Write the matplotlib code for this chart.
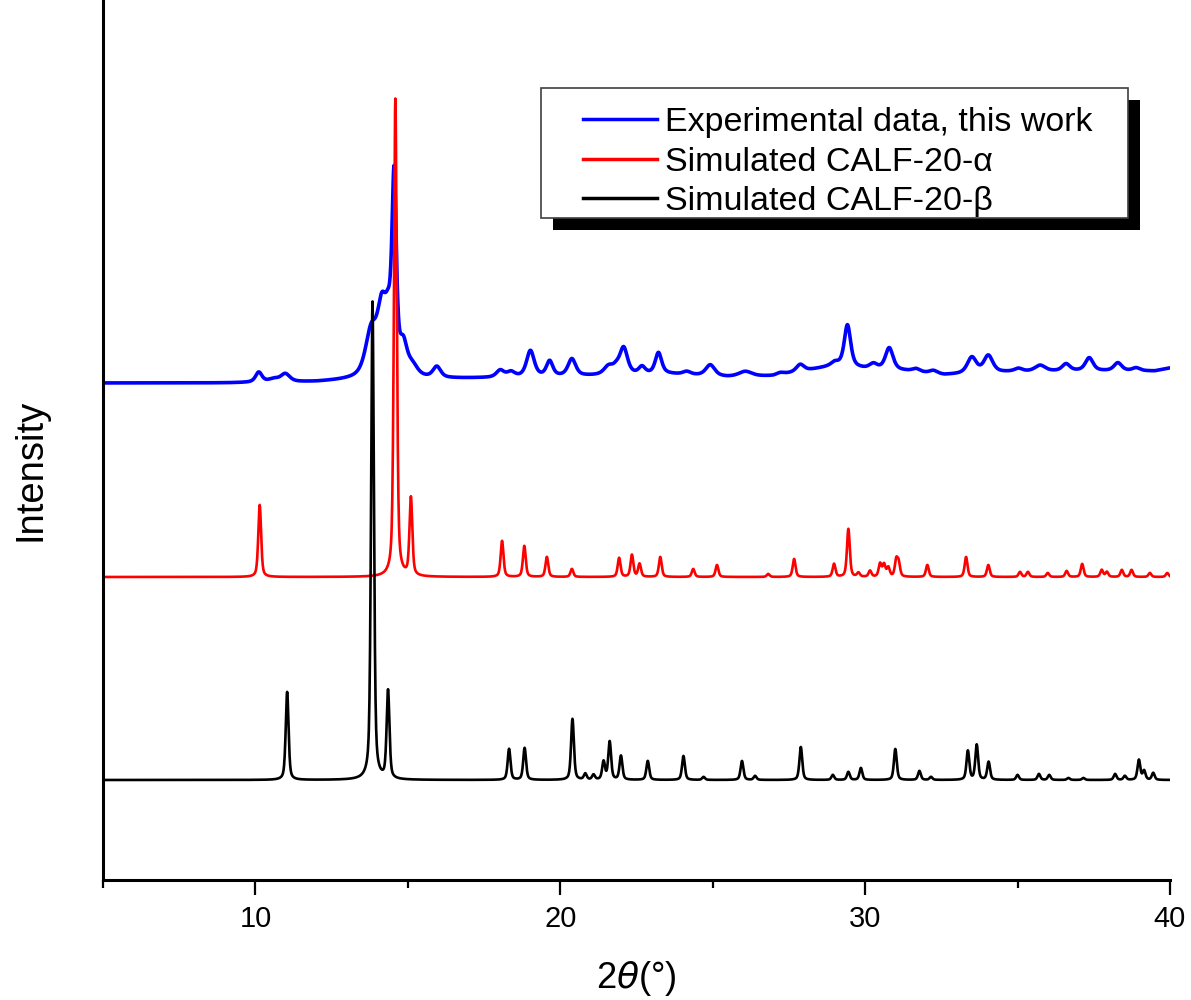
import numpy as np
import matplotlib
matplotlib.use("Agg")
import matplotlib.pyplot as plt
from matplotlib.patches import Rectangle
from matplotlib.ticker import MultipleLocator

# ---- peak tables (2theta in degrees, heights in a.u.) ----
beta_pos = [11.04, 13.84, 14.35, 18.32, 18.83, 20.40, 20.82, 21.09, 21.42, 21.62,
            21.99, 22.87, 24.04, 24.70, 25.96, 26.39, 27.89, 28.94, 29.45, 29.86,
            30.99, 31.78, 32.16, 33.37, 33.66, 34.05, 35.00, 35.70, 36.04, 36.67,
            37.16, 38.20, 38.52, 38.98, 39.15, 39.45]
beta_height = [88, 478, 88, 31, 32, 61, 6, 5, 18, 38,
               24, 19, 24, 3, 19, 4, 33, 5, 8, 12,
               31, 9, 3, 29, 35, 18, 5, 6, 5, 2,
               2, 6, 4, 20, 9, 7]

alpha_pos = [10.14, 14.59, 15.10, 18.09, 18.82, 19.56, 20.38, 21.93, 22.35, 22.60,
             23.28, 24.36, 25.14, 26.82, 27.67, 28.98, 29.45, 29.78, 30.16, 30.49,
             30.62, 30.76, 31.02, 31.10, 32.04, 33.31, 34.04, 35.08, 35.34, 35.99,
             36.61, 37.12, 37.76, 37.93, 38.42, 38.74, 39.34, 39.91]
alpha_height = [72, 478, 78, 36, 31, 20, 8, 19, 22, 13,
                20, 8, 12, 3, 18, 13, 48, 4, 6, 13,
                12, 9, 16, 13, 12, 20, 12, 5, 5, 4,
                6, 13, 7, 5, 7, 7, 4, 4]

exp_pos = [10.11, 10.60, 10.98, 13.80, 14.15, 14.36, 14.55, 14.85, 15.15, 15.95,
           18.03, 18.38, 19.02, 19.65, 20.38, 21.58, 21.84, 22.08, 22.68, 23.22,
           24.15, 24.92, 26.07, 27.21, 27.87, 29.01, 29.42, 30.27, 30.79, 31.67,
           32.24, 33.50, 34.04, 35.03, 35.74, 36.59, 37.35, 38.29, 38.89]
exp_height = [10, 3, 8, 45, 62, 40, 190, 28, 10, 11,
              7, 5, 26, 15, 17, 8, 6, 26, 7, 21,
              3, 11, 5, 2, 7, 3, 42, 5, 22, 3,
              3, 16, 17, 3, 6, 7, 13, 8, 3]
exp_fwhm = [0.25, 0.40, 0.35, 0.45, 0.35, 0.25, 0.17, 0.30, 0.40, 0.30,
            0.30, 0.30, 0.30, 0.25, 0.30, 0.35, 0.30, 0.30, 0.25, 0.25,
            0.30, 0.35, 0.50, 0.30, 0.30, 0.30, 0.25, 0.30, 0.30, 0.30,
            0.30, 0.35, 0.35, 0.30, 0.40, 0.30, 0.30, 0.30, 0.30]

# measured background of the experimental pattern
exp_bg_pos = [5, 9, 12, 13.3, 16, 18, 21, 23.5, 25.5, 27, 28, 29, 30, 31.3, 32.6, 34.8, 37, 39.5, 40]
exp_bg_level = [0, 0, 1, 3, 4, 5, 7, 9, 6, 7, 12, 17, 14, 12, 8, 11, 12, 12, 15]

# vertical stacking offsets
offset_beta = 100
offset_alpha = 303
offset_exp = 497

labels = ["Experimental data, this work", "Simulated CALF-20-α", "Simulated CALF-20-β"]

two_theta = np.arange(5.0, 40.0001, 0.01)


def pseudo_voigt(x, x0, h, w, eta):
    d = (x - x0) / (w / 2.0)
    lor = 1.0 / (1.0 + d ** 2)
    gau = np.exp(-np.log(2.0) * d ** 2)
    return h * (eta * lor + (1 - eta) * gau)


def pattern(pos, height, fwhm, eta):
    y = np.zeros_like(two_theta)
    for p, h, w in zip(pos, height, fwhm):
        y += pseudo_voigt(two_theta, p, h, w, eta)
    return y


sim_w = 0.11
y_beta = pattern(beta_pos, beta_height, [sim_w] * len(beta_pos), 0.5) + offset_beta
y_alpha = pattern(alpha_pos, alpha_height, [sim_w] * len(alpha_pos), 0.5) + offset_alpha
y_exp = (pattern(exp_pos, exp_height, exp_fwhm, 0.6)
         + np.interp(two_theta, exp_bg_pos, exp_bg_level) + offset_exp)

W, H = 1191, 1000
fig = plt.figure(figsize=(W / 100, H / 100), dpi=100)
ax_left, ax_right, ax_bottom, ax_top = 103, 1170, 880, 0
ax = fig.add_axes([ax_left / W, (H - ax_bottom) / H,
                   (ax_right - ax_left) / W, (ax_bottom - ax_top) / H])


def px_to_axes(x, y):
    return ((x - ax_left) / (ax_right - ax_left), (ax_bottom - y) / (ax_bottom - ax_top))


l1, = ax.plot(two_theta, y_exp, color="#0000ff", lw=2.6, label=labels[0])
l2, = ax.plot(two_theta, y_alpha, color="#ff0000", lw=1.9, label=labels[1])
l3, = ax.plot(two_theta, y_beta, color="black", lw=1.9, label=labels[2])

ax.set_xlim(5, 40)
ax.set_ylim(0, 880)

for s in ("top", "right"):
    ax.spines[s].set_visible(False)
for s in ("left", "bottom"):
    ax.spines[s].set_linewidth(2.2)

ax.set_yticks([])
ax.xaxis.set_major_locator(MultipleLocator(10))
ax.xaxis.set_minor_locator(MultipleLocator(5))
ax.tick_params(axis="x", which="major", length=11, width=1.6, direction="out", pad=7)
ax.tick_params(axis="x", which="minor", length=6, width=1.6, direction="out")
for t in ax.get_xticklabels():
    t.set_fontfamily("Liberation Sans")
    t.set_fontsize(21)

plt.rcParams["mathtext.fontset"] = "custom"
plt.rcParams["mathtext.it"] = "Liberation Sans:italic"
plt.rcParams["mathtext.rm"] = "Liberation Sans"

ax.set_xlabel(r"2$\theta$(°)", fontsize=26, family="Liberation Sans", labelpad=19)
ax.set_ylabel("Intensity", fontsize=27.5, family="Liberation Sans")
ax.yaxis.set_label_coords(*px_to_axes(49, 470))

# legend box with a solid offset shadow
box_l, box_t, box_r, box_b = 541, 88, 1128, 218
sx, sy = px_to_axes(box_l + 12, box_b + 12)
bx, by = px_to_axes(box_l, box_b)
bw = (box_r - box_l) / (ax_right - ax_left)
bh = (box_b - box_t) / (ax_bottom - ax_top)
ax.add_patch(Rectangle((sx, sy), bw, bh, transform=ax.transAxes, facecolor="black",
                       edgecolor="none", zorder=4.8, clip_on=False))
ax.add_patch(Rectangle((bx, by), bw, bh, transform=ax.transAxes, facecolor="white",
                       edgecolor="#404040", linewidth=1.2, zorder=4.9, clip_on=False))

leg = ax.legend(handles=[l1, l2, l3], loc="upper left",
                bbox_to_anchor=px_to_axes(583, 107),
                borderaxespad=0, borderpad=0, frameon=False,
                prop={"family": "Liberation Sans", "size": 24.5},
                handlelength=2.18, handletextpad=0.24, labelspacing=0.25)
leg.set_zorder(5)
for h in leg.get_lines():
    h.set_linewidth(2.5)

fig.savefig("out.png", dpi=100)
